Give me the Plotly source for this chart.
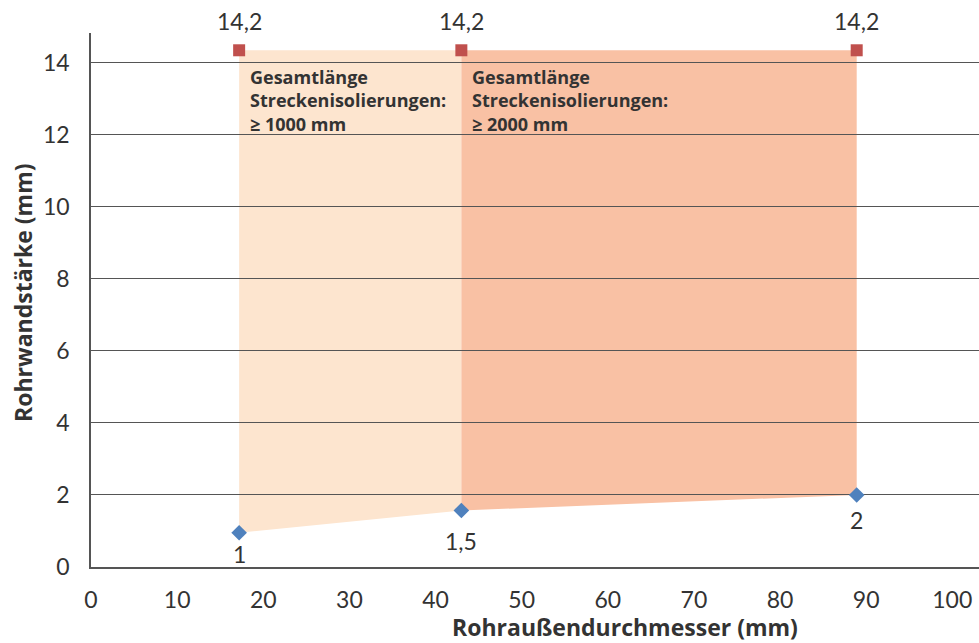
import plotly.graph_objects as go

# Data
outer_diameter = [17.2, 43.0, 88.9]          # mm
wall_min = [0.95, 1.57, 2.0]                 # mm (drawn position)
wall_min_labels = ["1", "1,5", "2"]
wall_max = [14.35, 14.35, 14.35]             # mm (drawn position)
wall_max_labels = ["14,2", "14,2", "14,2"]
zone_texts = [
    "Gesamtlänge<br>Streckenisolierungen:<br>≥ 1000 mm",
    "Gesamtlänge<br>Streckenisolierungen:<br>≥ 2000 mm",
]
zone_colors = ["#FDE5CF", "#F9C1A4"]
x_title = "Rohraußendurchmesser (mm)"
y_title = "Rohrwandstärke (mm)"

NUM_FONT = "Lato, sans-serif"
BOLD_FONT = "Open Sans, sans-serif"
TXT = "#333333"
GRID = "#555555"

W, H = 979, 643
L, R, T, B = 91, 0, 33, 76
PW, PH = W - L - R, H - T - B

fig = go.Figure()

shapes = []
for i in range(2):
    x0, x1 = outer_diameter[i], outer_diameter[i + 1]
    path = (f"M {x0},{wall_min[i]} L {x1},{wall_min[i+1]} "
            f"L {x1},{wall_max[i+1]} L {x0},{wall_max[i]} Z")
    shapes.append(dict(type="path", path=path, xref="x", yref="y",
                       fillcolor=zone_colors[i], line=dict(width=0),
                       layer="below"))

fig.add_trace(go.Scatter(
    x=outer_diameter, y=wall_max, mode="markers",
    marker=dict(symbol="square", size=12, color="#C0504D"),
    showlegend=False, hoverinfo="skip", cliponaxis=False))

fig.add_trace(go.Scatter(
    x=outer_diameter, y=wall_min, mode="markers",
    marker=dict(symbol="diamond", size=12, color="#4F81BD"),
    showlegend=False, hoverinfo="skip", cliponaxis=False))

annotations = []
for xv, yv, lab in zip(outer_diameter, wall_max, wall_max_labels):
    annotations.append(dict(x=xv, y=yv, xref="x", yref="y", text=lab,
                            showarrow=False, yshift=29, yanchor="middle",
                            font=dict(family=NUM_FONT, size=23, color=TXT)))
label_shift = [-21, -31, -25]
for xv, yv, lab, sh in zip(outer_diameter, wall_min, wall_min_labels, label_shift):
    annotations.append(dict(x=xv, y=yv, xref="x", yref="y", text=lab,
                            showarrow=False, yshift=sh, yanchor="middle",
                            font=dict(family=NUM_FONT, size=23, color=TXT)))

for i, t in enumerate(zone_texts):
    annotations.append(dict(x=outer_diameter[i], y=wall_max[i], xref="x", yref="y",
                            text=f"<b>{t}</b>", showarrow=False, align="left",
                            xanchor="left", yanchor="top", xshift=9, yshift=-13,
                            font=dict(family=BOLD_FONT, size=18, color=TXT)))

annotations.append(dict(x=(625 - L) / PW, y=-(627 - (H - B)) / PH,
                        xref="paper", yref="paper", text=f"<b>{x_title}</b>",
                        showarrow=False, xanchor="center", yanchor="middle",
                        font=dict(family=BOLD_FONT, size=23, color=TXT)))
annotations.append(dict(x=-(L - 23) / PW, y=((H - B) - 293) / PH,
                        xref="paper", yref="paper", text=f"<b>{y_title}</b>",
                        textangle=-90, showarrow=False, xanchor="center", yanchor="middle",
                        font=dict(family=BOLD_FONT, size=23, color=TXT)))

fig.update_layout(
    width=W, height=H,
    margin=dict(l=L, r=R, t=T, b=B, autoexpand=False),
    paper_bgcolor="white", plot_bgcolor="white",
    shapes=shapes, annotations=annotations,
    xaxis=dict(range=[0, 103.1], tickmode="linear", tick0=0, dtick=10,
               showgrid=False, zeroline=False, showline=True, automargin=False,
               linecolor=GRID, linewidth=1.5, ticks="", ticklen=0,
               ticklabelstandoff=12,
               tickfont=dict(family=NUM_FONT, size=23, color=TXT)),
    yaxis=dict(range=[0, 14.83], tickmode="linear", tick0=0, dtick=2,
               showgrid=True, gridcolor=GRID, gridwidth=1.3, automargin=False,
               zeroline=False, showline=True, linecolor=GRID, linewidth=1.5,
               ticks="", ticklen=0, ticklabelstandoff=15,
               tickfont=dict(family=NUM_FONT, size=23, color=TXT)),
)

fig.write_html("out.html", config={"displayModeBar": False},
               post_script="document.body.style.margin='0';document.body.style.overflow='hidden';")
